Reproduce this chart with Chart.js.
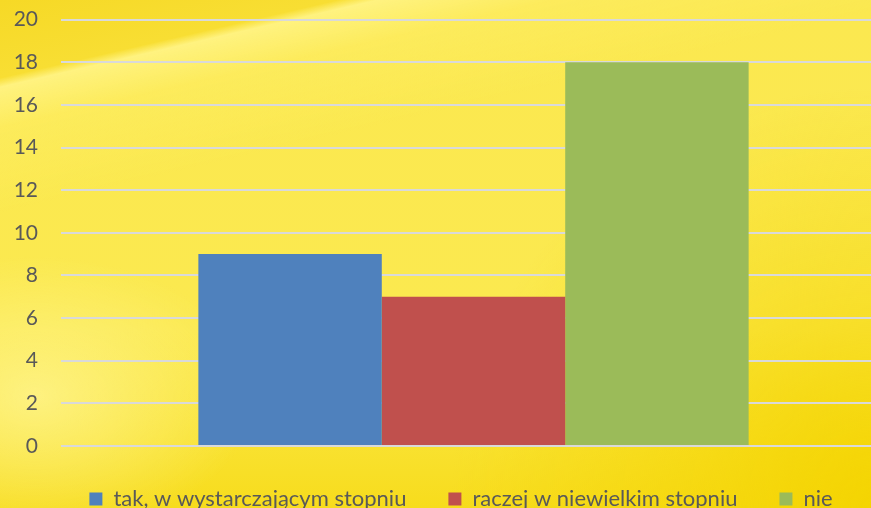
<!DOCTYPE html>
<html>
<head>
<meta charset="utf-8">
<script src="https://cdn.jsdelivr.net/npm/chart.js@4"></script>
<style>
html,body{margin:0;padding:0;width:871px;height:508px;overflow:hidden;}
body{
 background:
  linear-gradient(167deg, #f6d926 0%, #f8de33 11%, rgba(255,243,130,0.95) 12.3%, rgba(255,240,110,0.4) 18%, rgba(255,240,110,0) 30%),
  radial-gradient(ellipse 220px 140px at 4% 78%, rgba(255,246,150,0.75), rgba(255,246,150,0)),
  radial-gradient(circle at 100% 100%, rgba(244,212,0,0.95) 0, rgba(244,212,0,0.5) 180px, rgba(244,212,0,0) 420px),
  linear-gradient(180deg, #fbe850 0%, #fbe94f 65%, #f9e232 86%, #f7dc1c 100%);
}
#wrap{position:absolute;left:0;top:-16px;width:886px;height:524px;}
</style>
</head>
<body>
<div id="wrap"><canvas id="c"></canvas></div>
<script>
const categories = [""];
const seriesNames = ["tak, w wystarczającym stopniu", "raczej w niewielkim stopniu", "nie"];
const seriesValues = [[9], [7], [18]];
const seriesColors = ["#4f81bd", "#c0504d", "#9bbb59"];
const yTicks = [0, 2, 4, 6, 8, 10, 12, 14, 16, 18, 20];

const shiftLegend = {
  id: 'shiftLegend',
  afterLayout(chart) {
    if (chart.legend) { chart.legend.left += 18; chart.legend.right += 18; }
  }
};

new Chart(document.getElementById('c'), {
  type: 'bar',
  data: {
    labels: categories,
    datasets: seriesNames.map((n, i) => ({
      label: n,
      data: seriesValues[i],
      backgroundColor: seriesColors[i],
      borderWidth: 0
    }))
  },
  plugins: [shiftLegend],
  options: {
    responsive: true,
    maintainAspectRatio: false,
    animation: false,
    datasets: { bar: { categoryPercentage: 0.667, barPercentage: 1 } },
    layout: { padding: { top: 0, right: 0, left: 0, bottom: -12 } },
    plugins: {
      tooltip: { enabled: false },
      legend: {
        position: 'bottom',
        labels: {
          boxWidth: 13, boxHeight: 13, padding: 42,
          color: '#595959',
          font: { family: 'Lato', size: 22, lineHeight: 1.1 }
        }
      }
    },
    scales: {
      x: {
        display: false
      },
      y: {
        min: 0, max: 20,
        afterFit: s => { s.width = 61; },
        afterBuildTicks: s => { s.ticks = yTicks.map(v => ({ value: v })); },
        grid: { color: '#d9d9d9', lineWidth: 2, drawTicks: false },
        border: { display: false },
        ticks: { color: '#595959', padding: 23, font: { family: 'Lato', size: 21 } }
      }
    }
  }
});
</script>
</body>
</html>
